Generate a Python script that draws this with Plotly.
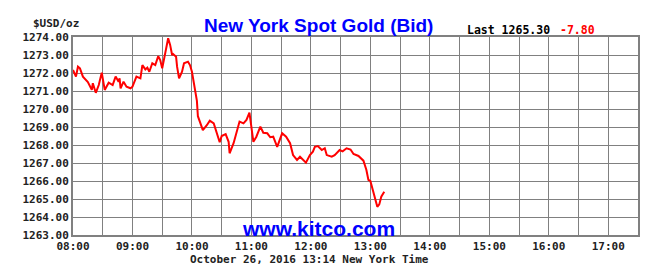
import pandas as pd
import plotly.graph_objects as go

# ---- data ----
times = ["08:00","08:03","08:05","08:07","08:10","08:15","08:19","08:20","08:23","08:26",
         "08:29","08:31","08:32","08:36","08:40","08:43","08:46","08:47","08:48","08:51",
         "08:54","08:58","09:00","09:04","09:08","09:10","09:13","09:15","09:17","09:20",
         "09:23","09:26","09:28","09:30","09:33","09:35","09:36","09:38","09:40","09:41",
         "09:44","09:45","09:47","09:50","09:52","09:56","09:58","10:00","10:01","10:03",
         "10:05","10:06","10:08","10:11","10:15","10:18","10:22","10:25","10:28","10:30",
         "10:34","10:37","10:38","10:42","10:45","10:48","10:52","10:55","10:58","11:00",
         "11:02","11:05","11:09","11:12","11:16","11:19","11:22","11:26","11:31","11:35",
         "11:39","11:42","11:46","11:49","11:52","11:55","11:59","12:02","12:04","12:07",
         "12:11","12:14","12:16","12:21","12:24","12:29","12:32","12:36","12:40","12:43",
         "12:48","12:53","12:56","12:58","13:00","13:02","13:05","13:07","13:09","13:11",
         "13:14"]
prices = [1272.17,1271.80,1272.35,1272.26,1271.80,1271.50,1271.06,1271.43,1270.90,1271.33,
          1272.02,1271.50,1271.06,1271.46,1271.33,1271.80,1271.52,1271.70,1271.15,1271.52,
          1271.24,1271.15,1271.24,1271.80,1271.70,1272.44,1272.20,1272.30,1272.07,1272.54,
          1272.44,1272.94,1272.72,1272.26,1273.00,1273.65,1273.93,1273.56,1273.00,1273.05,
          1272.90,1272.35,1271.70,1272.07,1272.54,1272.63,1272.44,1272.07,1271.70,1271.06,
          1270.45,1269.60,1269.30,1268.83,1269.10,1269.35,1269.20,1268.65,1268.15,1268.50,
          1268.60,1268.18,1267.54,1268.10,1268.74,1269.30,1269.20,1269.39,1269.80,1269.02,
          1268.18,1268.46,1269.02,1268.68,1268.65,1268.43,1268.46,1267.90,1268.65,1268.46,
          1268.10,1267.44,1267.17,1267.35,1267.20,1267.02,1267.44,1267.63,1267.90,1267.94,
          1267.72,1267.82,1267.44,1267.35,1267.44,1267.72,1267.65,1267.82,1267.75,1267.50,
          1267.39,1267.13,1266.61,1266.06,1266.00,1265.60,1265.04,1264.57,1264.70,1265.13,
          1265.40]
y_ticks = [1263,1264,1265,1266,1267,1268,1269,1270,1271,1272,1273,1274]
y_tick_labels = ["%.2f" % v for v in y_ticks]
x_tick_hours = ["08:00","09:00","10:00","11:00","12:00","13:00","14:00","15:00","16:00","17:00"]
day = "2016-10-26"
title_text = "New York Spot Gold (Bid)"
last_text = "Last 1265.30"
change_text = "-7.80"
unit_text = "$USD/oz"
site_text = "www.kitco.com"
stamp_text = "October 26, 2016 13:14 New York Time"

x = pd.to_datetime([f"{day} {t}" for t in times])
xticks = pd.to_datetime([f"{day} {t}" for t in x_tick_hours])

mono = "DejaVu Sans Mono"
tickfont = dict(family=mono, size=11, color="#222222", weight="bold")

fig = go.Figure()
fig.add_trace(go.Scatter(x=x, y=prices, mode="lines",
                         line=dict(color="#ff0000", width=2), hoverinfo="skip"))

fig.update_layout(
    width=661, height=278,
    margin=dict(l=73, r=23, t=37, b=43),
    paper_bgcolor="white", plot_bgcolor="white",
    showlegend=False,
)
fig.update_xaxes(
    type="date",
    range=[f"{day} 08:00", f"{day} 17:30"],
    tickvals=xticks, ticktext=x_tick_hours,
    showgrid=True, gridcolor="#808080", gridwidth=1,
    minor=dict(dtick=1800000, showgrid=True, gridcolor="#808080", gridwidth=1),
    showline=True, linecolor="#808080", linewidth=2, mirror=True,
    ticks="", tickfont=tickfont, zeroline=False,
)
fig.update_yaxes(
    range=[1263, 1274],
    tickvals=y_ticks, ticktext=y_tick_labels,
    showgrid=True, gridcolor="#808080", gridwidth=1,
    showline=True, linecolor="#808080", linewidth=2, mirror=True,
    ticks="", tickfont=tickfont, zeroline=False,
)

def px_x(px):
    return (px - 73) / 565.0

def px_y(py):
    return (235 - py) / 198.0

fig.add_annotation(text=unit_text, xref="paper", yref="paper", x=px_x(56), y=px_y(24),
                   showarrow=False, xanchor="center", yanchor="middle", font=tickfont)
fig.add_annotation(text="<b>" + title_text + "</b>", xref="paper", yref="paper",
                   x=px_x(318), y=px_y(25), showarrow=False, xanchor="center", yanchor="middle",
                   font=dict(family="Liberation Sans", size=19, color="#0000ff"))
fig.add_annotation(text=last_text, xref="paper", yref="paper", x=px_x(465), y=px_y(30),
                   showarrow=False, xanchor="left", yanchor="middle",
                   font=dict(family=mono, size=11.5, color="#000000", weight="bold"))
fig.add_annotation(text=change_text, xref="paper", yref="paper", x=px_x(558), y=px_y(30),
                   showarrow=False, xanchor="left", yanchor="middle",
                   font=dict(family=mono, size=11.5, color="#ff0000", weight="bold"))
fig.add_annotation(text="<b>" + site_text + "</b>", xref="paper", yref="paper",
                   x=px_x(318.5), y=px_y(228), showarrow=False, xanchor="center", yanchor="middle",
                   font=dict(family="Liberation Sans", size=21, color="#0000ff"))
fig.add_annotation(text=stamp_text, xref="paper", yref="paper", x=px_x(309.5), y=px_y(259.5),
                   showarrow=False, xanchor="center", yanchor="middle", font=tickfont)

fig.write_html("out.html")
